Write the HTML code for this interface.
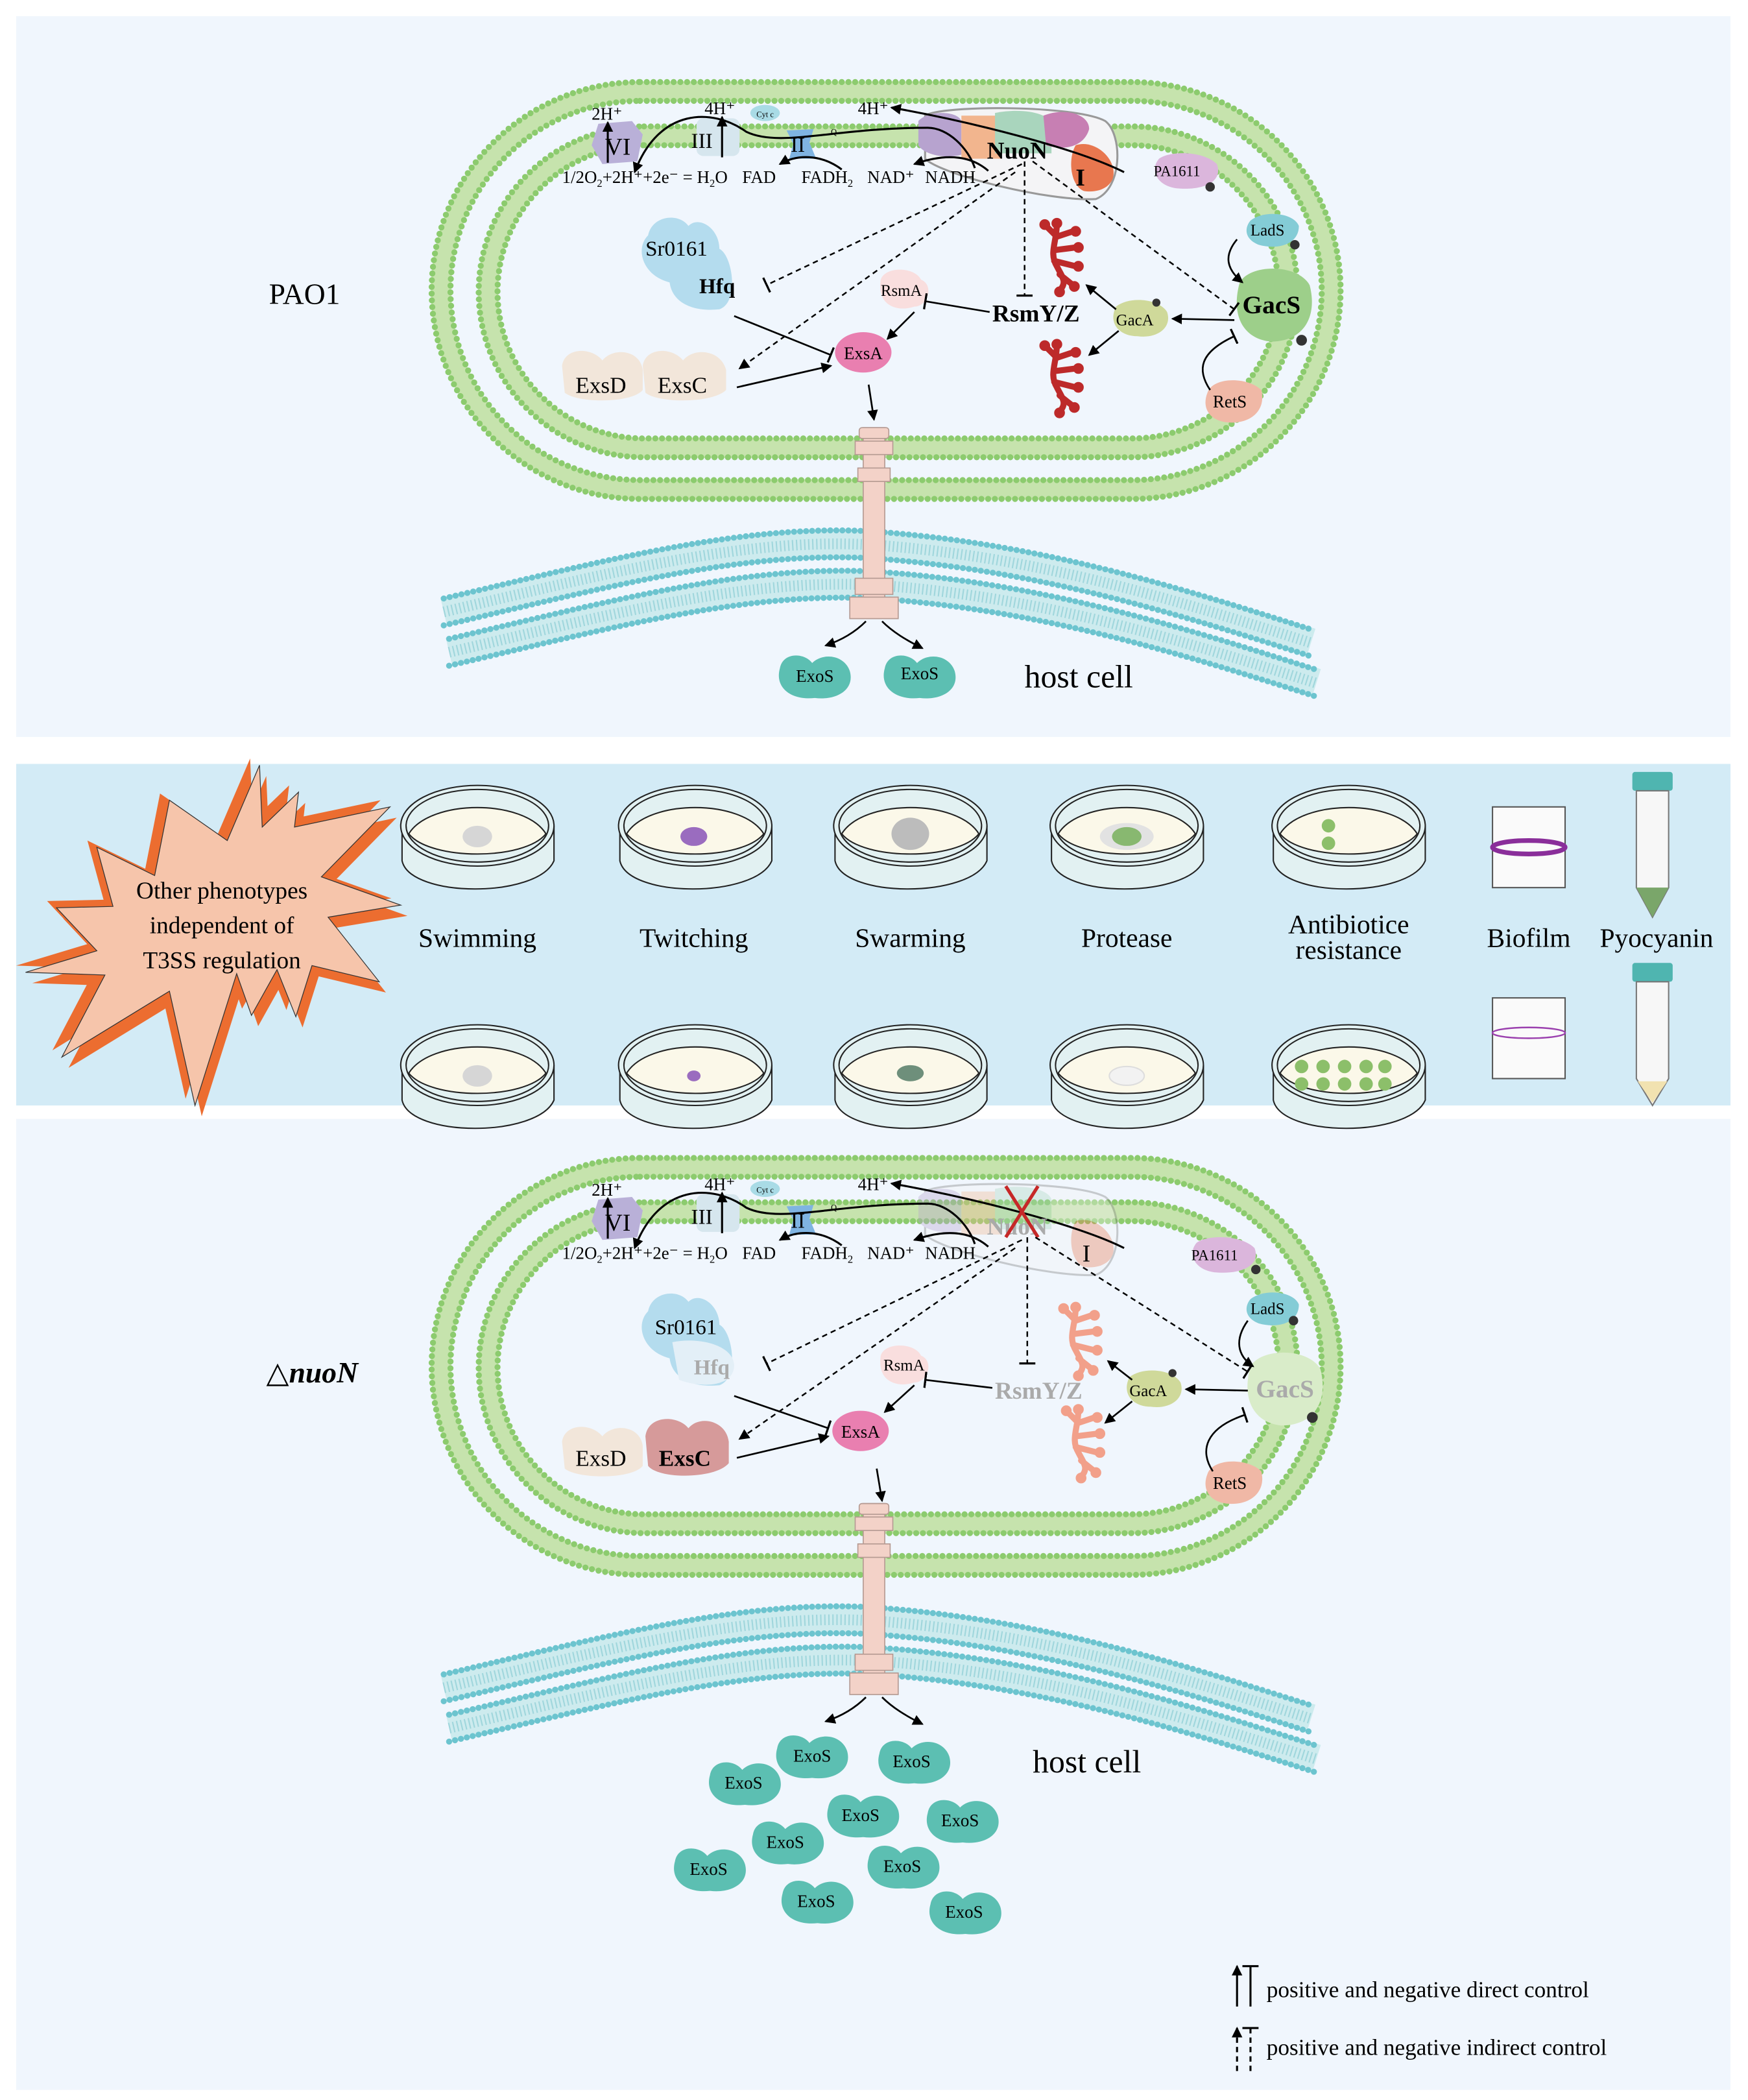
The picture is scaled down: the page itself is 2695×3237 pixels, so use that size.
<!DOCTYPE html>
<html><head><meta charset="utf-8"><style>
html,body{margin:0;padding:0;background:#fff;}
svg{display:block;}
text{font-family:"Liberation Serif",serif;}
</style></head><body>
<svg width="2695" height="3237" viewBox="0 0 1300 1561.5" xmlns="http://www.w3.org/2000/svg">
<defs>
<marker id="ah" markerWidth="8" markerHeight="8" refX="7" refY="4" orient="auto" markerUnits="userSpaceOnUse"><path d="M0,0 L8,4 L0,8 Z" fill="#000"/></marker>
<marker id="tb" markerWidth="2" markerHeight="12" refX="1" refY="6" orient="auto" markerUnits="userSpaceOnUse"><rect x="0" y="0" width="1.6" height="12" fill="#000"/></marker>
<g id="memb">
  <rect x="328" y="68" width="662" height="296" rx="148" fill="none" stroke="#c6e3ad" stroke-width="15"/>
  <rect x="321" y="61" width="676" height="310" rx="155" fill="none" stroke="#8ccb6e" stroke-width="4.5" stroke-dasharray="0 5" stroke-linecap="round"/>
  <rect x="335" y="75" width="648" height="282" rx="141" fill="none" stroke="#8ccb6e" stroke-width="4.5" stroke-dasharray="0 5" stroke-linecap="round"/>
  <rect x="363" y="101" width="595" height="232" rx="116" fill="none" stroke="#c6e3ad" stroke-width="15"/>
  <rect x="356" y="94" width="609" height="246" rx="123" fill="none" stroke="#8ccb6e" stroke-width="4.5" stroke-dasharray="0 5" stroke-linecap="round"/>
  <rect x="370" y="108" width="581" height="218" rx="109" fill="none" stroke="#8ccb6e" stroke-width="4.5" stroke-dasharray="0 5" stroke-linecap="round"/>
</g>
<path id="hp" d="M330,455 C450,427 560,397 660,406 C780,416 880,448 975,478" fill="none"/>
<g id="bil">
  <use href="#hp" stroke="#cdebee" stroke-width="22"/>
  <use href="#hp" stroke="#9fd6dc" stroke-width="8" stroke-dasharray="1 2"/>
  <use href="#hp" stroke="#6cc4cf" stroke-width="4.5" stroke-dasharray="0 4.5" stroke-linecap="round" transform="translate(0,-10)"/>
  <use href="#hp" stroke="#6cc4cf" stroke-width="4.5" stroke-dasharray="0 4.5" stroke-linecap="round" transform="translate(0,10)"/>
</g>
<g id="host">
  <use href="#bil"/>
  <use href="#bil" transform="translate(4,30)"/>
</g>
<g id="needle">
  <rect x="642" y="318" width="16" height="140" fill="#f3d2c8" stroke="#b59a92" stroke-width="0.8"/>
  <rect x="639" y="318" width="22" height="8" rx="2" fill="#f3d2c8" stroke="#b59a92" stroke-width="0.8"/>
  <rect x="636" y="328" width="28" height="10" fill="#f3d2c8" stroke="#b59a92" stroke-width="0.8"/>
  <rect x="638" y="348" width="24" height="10" fill="#f3d2c8" stroke="#b59a92" stroke-width="0.8"/>
  <rect x="636" y="430" width="28" height="12" fill="#f3d2c8" stroke="#b59a92" stroke-width="0.8"/>
  <rect x="632" y="444" width="36" height="16" fill="#f3d2c8" stroke="#b59a92" stroke-width="0.8"/>
</g>
<path id="exos" d="M-26,-6 C-24,-18 -8,-18 -2,-10 C6,-18 22,-16 26,-4 C30,10 16,18 0,16 C-18,18 -30,8 -26,-6 Z" fill="#5cbfb2"/>
<g id="rna">
  <path d="M-6,-22 C-6,-8 -12,0 -6,10 C-2,18 2,22 -4,28 M-6,-12 L6,-16 M-8,-2 L8,-4 M-8,6 L8,10 M-4,16 L6,24 M-6,-12 L-14,-20" stroke-width="4.5" fill="none" stroke-linecap="round"/>
  <circle cx="-6" cy="-22" r="3.5"/><circle cx="8" cy="-16" r="3.5"/><circle cx="10" cy="-4" r="3.5"/><circle cx="10" cy="10" r="3.5"/><circle cx="7" cy="25" r="3.5"/><circle cx="-4" cy="29" r="3.5"/><circle cx="-15" cy="-21" r="3.5"/>
</g>
<g id="etc">
<path d="M445,92 L470,90 L478,100 L474,120 L448,122 L440,108 Z" fill="#b9b0d8"/>
<rect x="518" y="88" width="32" height="28" rx="5" fill="#d6e6ee"/>
<ellipse cx="569" cy="84" rx="11" ry="6" fill="#a9dbe6"/>
<text x="569" y="87" font-size="6" text-anchor="middle">Cyt c</text>
<path d="M585,97 L605,96 L602,106 L607,118 L587,118 L590,107 Z" fill="#7fb4e2"/>
<text x="618" y="100" font-size="6">Q</text>
<text x="450" y="115" font-size="18">VI</text>
<text x="514" y="110" font-size="16">III</text>
<text x="588" y="113" font-size="16">II</text>
<text x="440" y="89" font-size="13">2H⁺</text>
<text x="524" y="85" font-size="13">4H⁺</text>
<text x="638" y="85" font-size="13">4H⁺</text>
<line x1="452" y1="121" x2="452" y2="91" stroke="#000" stroke-width="1.5" marker-end="url(#ah)"/>
<line x1="537" y1="117" x2="537" y2="87" stroke="#000" stroke-width="1.5" marker-end="url(#ah)"/>
<path d="M836,128 C800,110 720,90 663,80" fill="none" stroke="#000" stroke-width="1.5" marker-end="url(#ah)"/>
<path d="M725,125 C720,110 705,95 690,95 C620,95 580,110 555,98 C530,80 490,80 472,128" fill="none" stroke="#000" stroke-width="1.5" marker-end="url(#ah)"/>
<path d="M626,126 C610,114 592,115 580,122" fill="none" stroke="#000" stroke-width="1.5" marker-end="url(#ah)"/>
<path d="M735,127 C720,114 700,115 680,122" fill="none" stroke="#000" stroke-width="1.5" marker-end="url(#ah)"/>
<text x="418" y="136" font-size="13">1/2O<tspan font-size="8" dy="3">2</tspan><tspan dy="-3">+2H⁺+2e⁻ = H</tspan><tspan font-size="8" dy="3">2</tspan><tspan dy="-3">O</tspan></text>
<text x="552" y="136" font-size="13">FAD</text>
<text x="596" y="136" font-size="13">FADH<tspan font-size="8" dy="3">2</tspan></text>
<text x="645" y="136" font-size="13">NAD⁺</text>
<text x="688" y="136" font-size="13">NADH</text>
</g>
</defs>

<rect x="12" y="12" width="1275" height="536" fill="#f0f6fd"/>
<rect x="12" y="568" width="1275" height="254" fill="#d3ebf6"/>
<rect x="12" y="832" width="1275" height="722" fill="#f0f6fd"/>

<!-- ================= TOP ================= -->
<use href="#memb"/>
<use href="#host"/>
<use href="#needle"/>
<text x="200" y="226" font-size="22">PAO1</text>
<path d="M688,86 C700,78 800,78 822,90 C835,100 835,140 815,148 C780,150 700,130 688,118 Z" fill="#f4f4f6" stroke="#999" stroke-width="1.5"/>
<path d="M683,90 C690,82 712,82 715,90 L715,115 C705,118 688,116 683,108 Z" fill="#b7a3cf"/>
<path d="M715,86 L745,86 L745,118 L715,118 Z" fill="#f2b58e"/>
<path d="M740,84 C760,80 780,84 782,92 L782,114 L740,114 Z" fill="#a9d5bd"/>
<path d="M776,86 C790,80 810,84 810,96 C806,110 790,112 778,108 Z" fill="#c77fb3"/>
<path d="M800,108 C812,104 826,114 828,126 C830,138 818,144 806,142 C796,138 794,118 800,108 Z" fill="#e8774f"/>
<use href="#etc"/>
<text x="734" y="118" font-size="18" font-weight="bold">NuoN</text>
<text x="800" y="138" font-size="18" font-weight="bold">I</text>

<path d="M482,175 C485,160 505,158 512,168 C520,160 535,170 535,185 C545,190 550,225 535,230 C515,232 500,225 498,210 C478,205 472,185 482,175 Z" fill="#b4dcee"/>
<text x="480" y="190" font-size="16">Sr0161</text>
<text x="520" y="218" font-size="16" font-weight="bold">Hfq</text>
<path d="M655,208 C658,198 680,198 685,208 C695,212 690,228 680,228 C668,232 652,228 655,208 Z" fill="#f9dede"/>
<text x="655" y="220" font-size="12">RsmA</text>
<ellipse cx="642" cy="262" rx="21" ry="15" fill="#e97fb0"/>
<text x="642" y="267" font-size="13" text-anchor="middle">ExsA</text>
<path d="M418,272 C420,258 440,258 448,268 C456,258 476,260 478,275 L478,290 C470,300 430,300 420,292 Z" fill="#f2e6da"/>
<path d="M478,272 C480,258 500,258 508,268 C516,258 536,260 540,275 L540,290 C530,300 490,300 480,292 Z" fill="#f2e6da"/>
<text x="428" y="292" font-size="17">ExsD</text>
<text x="489" y="292" font-size="17">ExsC</text>
<text x="738" y="239" font-size="18" font-weight="bold">RsmY/Z</text>
<path d="M830,228 C840,220 862,222 868,232 C872,244 860,252 846,250 C832,250 824,240 830,228 Z" fill="#cfd99a"/>
<text x="830" y="242" font-size="12">GacA</text>
<circle cx="860" cy="225" r="3" fill="#333"/>
<path d="M862,118 C870,112 895,112 905,122 C910,135 895,142 875,140 C860,138 855,126 862,118 Z" fill="#dbb6dc"/>
<text x="858" y="131" font-size="11">PA1611</text>
<circle cx="900" cy="139" r="3.5" fill="#333"/>
<path d="M930,164 C940,156 962,158 966,168 C966,182 950,186 936,182 C926,178 925,170 930,164 Z" fill="#84ccd6"/>
<text x="930" y="175" font-size="12">LadS</text>
<circle cx="963" cy="182" r="3.5" fill="#333"/>
<path d="M922,210 C930,196 965,196 974,212 C980,235 970,254 945,254 C925,252 915,235 922,210 Z" fill="#9dcf8a"/>
<text x="924" y="233" font-size="19" font-weight="bold">GacS</text>
<circle cx="968" cy="253" r="4" fill="#333"/>
<path d="M898,292 C902,280 928,280 938,290 C942,305 930,316 912,314 C898,312 894,302 898,292 Z" fill="#f0b8a6"/>
<text x="902" y="303" font-size="13">RetS</text>
<g stroke="#bd2a2a" fill="#bd2a2a"><use href="#rna" x="792" y="188"/><use href="#rna" x="792" y="278"/></g>

<line x1="760" y1="122" x2="570" y2="212" stroke="#000" stroke-width="1.2" stroke-dasharray="4 3" marker-end="url(#tb)"/>
<line x1="755" y1="128" x2="550" y2="274" stroke="#000" stroke-width="1.2" stroke-dasharray="4 3" marker-end="url(#ah)"/>
<line x1="762" y1="120" x2="762" y2="220" stroke="#000" stroke-width="1.2" stroke-dasharray="4 3" marker-end="url(#tb)"/>
<line x1="768" y1="120" x2="918" y2="230" stroke="#000" stroke-width="1.2" stroke-dasharray="4 3" marker-end="url(#tb)"/>
<line x1="546" y1="235" x2="618" y2="264" stroke="#000" stroke-width="1.3" marker-end="url(#tb)"/>
<line x1="548" y1="288" x2="618" y2="272" stroke="#000" stroke-width="1.3" marker-end="url(#ah)"/>
<line x1="680" y1="232" x2="660" y2="252" stroke="#000" stroke-width="1.3" marker-end="url(#ah)"/>
<line x1="736" y1="232" x2="688" y2="224" stroke="#000" stroke-width="1.3" marker-end="url(#tb)"/>
<line x1="830" y1="230" x2="808" y2="212" stroke="#000" stroke-width="1.3" marker-end="url(#ah)"/>
<line x1="832" y1="246" x2="810" y2="264" stroke="#000" stroke-width="1.3" marker-end="url(#ah)"/>
<line x1="918" y1="238" x2="872" y2="237" stroke="#000" stroke-width="1.3" marker-end="url(#ah)"/>
<path d="M900,290 C890,275 892,262 918,250" fill="none" stroke="#000" stroke-width="1.3" marker-end="url(#tb)"/>
<path d="M920,178 C910,190 912,200 924,210" fill="none" stroke="#000" stroke-width="1.3" marker-end="url(#ah)"/>
<line x1="646" y1="286" x2="650" y2="312" stroke="#000" stroke-width="1.3" marker-end="url(#ah)"/>
<path d="M644,462 C636,470 626,476 614,480" fill="none" stroke="#000" stroke-width="1.3" marker-end="url(#ah)"/>
<path d="M656,462 C664,470 674,476 686,482" fill="none" stroke="#000" stroke-width="1.3" marker-end="url(#ah)"/>
<use href="#exos" x="606" y="503"/><use href="#exos" x="684" y="503"/>
<text x="606" y="507" font-size="13" text-anchor="middle">ExoS</text>
<text x="684" y="505" font-size="13" text-anchor="middle">ExoS</text>
<text x="762" y="511" font-size="24">host cell</text>

<!-- ================= MIDDLE ================= -->
<g id="star">
<polygon points="193,569 195,615 222,589 219,615 290,600 239,652 298,673 244,682 282,730 232,718 220,756 206,721 187,755 176,724 145,822 126,737 46,786 78,725 19,723 72,707 42,675 84,674 72,630 115,651 126,595 169,625" fill="#ec6d30" transform="translate(-7,-5)"/>
<polygon points="193,569 195,615 222,589 219,615 290,600 239,652 298,673 244,682 282,730 232,718 220,756 206,721 187,755 176,724 145,822 126,737 46,786 78,725 19,723 72,707 42,675 84,674 72,630 115,651 126,595 169,625" fill="#ec6d30" transform="translate(5,8)"/>
<polygon points="193,569 195,615 222,589 219,615 290,600 239,652 298,673 244,682 282,730 232,718 220,756 206,721 187,755 176,724 145,822 126,737 46,786 78,725 19,723 72,707 42,675 84,674 72,630 115,651 126,595 169,625" fill="#f6c5ab" stroke="#333" stroke-width="0.6"/>
</g>
<text x="165" y="668" font-size="18" text-anchor="middle">Other phenotypes</text>
<text x="165" y="694" font-size="18" text-anchor="middle">independent of</text>
<text x="165" y="720" font-size="18" text-anchor="middle">T3SS regulation</text>

<g id="dish" stroke="#222" stroke-width="1">
  <path d="M299,614 L299,640 C305,668 400,668 412,640 L412,614" fill="#e2f1f2"/>
  <ellipse cx="355" cy="614" rx="57" ry="30" fill="#e2f1f2"/>
  <ellipse cx="355" cy="614" rx="53" ry="27" fill="#e2f1f2"/>
  <path d="M304,620 C320,594 390,594 406,620 C390,640 320,640 304,620 Z" fill="#fbf8e9"/>
</g>
<ellipse cx="355" cy="622" rx="11" ry="8" fill="#d6d6d6"/>
<use href="#dish" x="162"/><ellipse cx="516" cy="622" rx="10" ry="7" fill="#9a6cbf"/>
<use href="#dish" x="322"/><ellipse cx="677" cy="620" rx="14" ry="12" fill="#bcbcbc"/>
<use href="#dish" x="483"/><ellipse cx="838" cy="622" rx="20" ry="10" fill="#e2e2e2"/><ellipse cx="838" cy="622" rx="11" ry="7" fill="#88b870"/>
<use href="#dish" x="648"/><circle cx="988" cy="614" r="5" fill="#8cbf6a"/><circle cx="988" cy="627" r="5" fill="#8cbf6a"/>

<use href="#dish" y="178"/><ellipse cx="355" cy="800" rx="11" ry="8" fill="#d6d6d6"/>
<use href="#dish" x="162" y="178"/><ellipse cx="516" cy="800" rx="5" ry="4" fill="#9a6cbf"/>
<use href="#dish" x="322" y="178"/><ellipse cx="677" cy="798" rx="10" ry="6" fill="#6e8f7b"/>
<use href="#dish" x="483" y="178"/><ellipse cx="838" cy="800" rx="13" ry="7" fill="#f2f2f2" stroke="#ddd"/>
<use href="#dish" x="648" y="178"/>
<g fill="#8cbf6a"><circle cx="968" cy="793" r="5"/><circle cx="984" cy="793" r="5"/><circle cx="1000" cy="793" r="5"/><circle cx="1016" cy="793" r="5"/><circle cx="1030" cy="793" r="5"/><circle cx="968" cy="806" r="5"/><circle cx="984" cy="806" r="5"/><circle cx="1000" cy="806" r="5"/><circle cx="1016" cy="806" r="5"/><circle cx="1030" cy="806" r="5"/></g>

<g font-size="20" text-anchor="middle">
<text x="355" y="704">Swimming</text><text x="516" y="704">Twitching</text><text x="677" y="704">Swarming</text><text x="838" y="704">Protease</text>
<text x="1003" y="694">Antibiotice</text><text x="1003" y="713">resistance</text><text x="1137" y="704">Biofilm</text><text x="1232" y="704">Pyocyanin</text>
</g>
<rect x="1110" y="600" width="54" height="60" fill="#fafafa" stroke="#555"/>
<ellipse cx="1137" cy="630" rx="27" ry="5" fill="none" stroke="#8a2e9a" stroke-width="3.5"/>
<rect x="1110" y="742" width="54" height="60" fill="#fafafa" stroke="#555"/>
<ellipse cx="1137" cy="768" rx="27" ry="4" fill="none" stroke="#9a3fae" stroke-width="1.2"/>
<rect x="1214" y="574" width="30" height="14" rx="2" fill="#4fb5b0"/>
<path d="M1217,588 L1241,588 L1241,660 L1229,682 L1217,660 Z" fill="#f7f7f7" stroke="#777"/>
<path d="M1217,660 L1241,660 L1229,682 Z" fill="#7aa66a"/>
<rect x="1214" y="716" width="30" height="14" rx="2" fill="#4fb5b0"/>
<path d="M1217,730 L1241,730 L1241,802 L1229,822 L1217,802 Z" fill="#f7f7f7" stroke="#777"/>
<path d="M1218,804 L1240,804 L1229,820 Z" fill="#f1e2b0"/>

<!-- ================= BOTTOM ================= -->
<g transform="translate(0,800)">
<use href="#memb"/>
<use href="#host"/>
<use href="#needle"/>
<g opacity="0.35">
<path d="M688,86 C700,78 800,78 822,90 C835,100 835,140 815,148 C780,150 700,130 688,118 Z" fill="#f4f4f6" stroke="#777" stroke-width="1.5"/>
<path d="M683,90 C690,82 712,82 715,90 L715,115 C705,118 688,116 683,108 Z" fill="#b7a3cf"/>
<path d="M715,86 L745,86 L745,118 L715,118 Z" fill="#f2b58e"/>
<path d="M740,84 C760,80 780,84 782,92 L782,114 L740,114 Z" fill="#a9d5bd"/>
<path d="M800,108 C812,104 826,114 828,126 C830,138 818,144 806,142 C796,138 794,118 800,108 Z" fill="#e8774f"/>
</g>
<use href="#etc"/>
<text x="734" y="118" font-size="18" font-weight="bold" fill="#aaa">NuoN</text>
<path d="M748,82 L772,120 M772,82 L748,120" stroke="#c62828" stroke-width="2.5"/>
<text x="805" y="138" font-size="18">I</text>

<path d="M482,175 C485,160 505,158 512,168 C520,160 535,170 535,185 C545,190 550,225 535,230 C515,232 500,225 498,210 C478,205 472,185 482,175 Z" fill="#b4dcee"/>
<path d="M500,198 C520,194 545,200 546,215 C546,232 520,232 505,226 Z" fill="#e3eff7"/>
<text x="487" y="192" font-size="16">Sr0161</text>
<text x="516" y="222" font-size="16" font-weight="bold" fill="#aaa">Hfq</text>
<path d="M655,208 C658,198 680,198 685,208 C695,212 690,228 680,228 C668,232 652,228 655,208 Z" fill="#f9dede"/>
<text x="657" y="219" font-size="12">RsmA</text>
<ellipse cx="640" cy="264" rx="21" ry="15" fill="#e97fb0"/>
<text x="640" y="269" font-size="13" text-anchor="middle">ExsA</text>
<path d="M418,272 C420,258 440,258 448,268 C456,258 476,260 478,275 L478,290 C470,300 430,300 420,292 Z" fill="#f2e6da"/>
<path d="M480,268 C482,252 504,252 512,262 C520,252 540,256 542,272 L542,288 C532,300 490,300 482,290 Z" fill="#d69a9a"/>
<text x="428" y="290" font-size="17">ExsD</text>
<text x="490" y="290" font-size="17" font-weight="bold">ExsC</text>
<text x="740" y="240" font-size="18" font-weight="bold" fill="#aaa">RsmY/Z</text>
<path d="M840,224 C850,216 872,218 878,228 C882,240 870,248 856,246 C842,246 834,236 840,224 Z" fill="#cfd99a"/>
<text x="840" y="238" font-size="12">GacA</text>
<circle cx="872" cy="221" r="3" fill="#333"/>
<path d="M890,124 C898,118 923,118 933,128 C938,141 923,148 903,146 C888,144 883,132 890,124 Z" fill="#dbb6dc"/>
<text x="886" y="137" font-size="11">PA1611</text>
<circle cx="934" cy="144" r="3.5" fill="#333"/>
<path d="M930,166 C940,158 962,160 966,170 C966,184 950,188 936,184 C926,180 925,172 930,166 Z" fill="#84ccd6"/>
<text x="930" y="177" font-size="12">LadS</text>
<circle cx="962" cy="182" r="3.5" fill="#333"/>
<path d="M930,216 C938,202 973,202 982,218 C988,241 978,260 953,260 C933,258 923,241 930,216 Z" fill="#d9ecc9"/>
<text x="934" y="239" font-size="19" font-weight="bold" fill="#aaa">GacS</text>
<circle cx="976" cy="254" r="4" fill="#333"/>
<path d="M898,296 C902,284 928,284 938,294 C942,309 930,320 912,318 C898,316 894,306 898,296 Z" fill="#f0b8a6"/>
<text x="902" y="307" font-size="13">RetS</text>
<g stroke="#f2a08a" fill="#f2a08a"><use href="#rna" x="806" y="194"/><use href="#rna" x="808" y="270"/></g>

<line x1="760" y1="122" x2="570" y2="214" stroke="#000" stroke-width="1.2" stroke-dasharray="4 3" marker-end="url(#tb)"/>
<line x1="755" y1="128" x2="550" y2="270" stroke="#000" stroke-width="1.2" stroke-dasharray="4 3" marker-end="url(#ah)"/>
<line x1="764" y1="120" x2="764" y2="214" stroke="#000" stroke-width="1.2" stroke-dasharray="4 3" marker-end="url(#tb)"/>
<line x1="770" y1="120" x2="928" y2="220" stroke="#000" stroke-width="1.2" stroke-dasharray="4 3" marker-end="url(#tb)"/>
<line x1="546" y1="238" x2="616" y2="262" stroke="#000" stroke-width="1.3" marker-end="url(#tb)"/>
<line x1="548" y1="284" x2="616" y2="268" stroke="#000" stroke-width="1.3" marker-end="url(#ah)"/>
<line x1="680" y1="230" x2="658" y2="250" stroke="#000" stroke-width="1.3" marker-end="url(#ah)"/>
<line x1="738" y1="232" x2="688" y2="226" stroke="#000" stroke-width="1.3" marker-end="url(#tb)"/>
<line x1="842" y1="226" x2="824" y2="212" stroke="#000" stroke-width="1.3" marker-end="url(#ah)"/>
<line x1="842" y1="242" x2="822" y2="258" stroke="#000" stroke-width="1.3" marker-end="url(#ah)"/>
<line x1="928" y1="234" x2="882" y2="233" stroke="#000" stroke-width="1.3" marker-end="url(#ah)"/>
<path d="M902,294 C892,279 896,262 926,252" fill="none" stroke="#000" stroke-width="1.3" marker-end="url(#tb)"/>
<path d="M928,182 C918,196 920,208 932,216" fill="none" stroke="#000" stroke-width="1.3" marker-end="url(#ah)"/>
<line x1="652" y1="292" x2="656" y2="316" stroke="#000" stroke-width="1.3" marker-end="url(#ah)"/>
<path d="M644,462 C636,470 626,476 614,480" fill="none" stroke="#000" stroke-width="1.3" marker-end="url(#ah)"/>
<path d="M656,462 C664,470 674,476 686,482" fill="none" stroke="#000" stroke-width="1.3" marker-end="url(#ah)"/>
</g>
<text x="198" y="1028" font-size="22">△<tspan font-style="italic" font-weight="bold">nuoN</tspan></text>
<text x="768" y="1318" font-size="24">host cell</text>

<g font-size="13" text-anchor="middle">
<use href="#exos" x="604" y="1306"/><text x="604" y="1310">ExoS</text>
<use href="#exos" x="680" y="1310"/><text x="678" y="1314">ExoS</text>
<use href="#exos" x="554" y="1326"/><text x="553" y="1330">ExoS</text>
<use href="#exos" x="642" y="1350"/><text x="640" y="1354">ExoS</text>
<use href="#exos" x="716" y="1354"/><text x="714" y="1358">ExoS</text>
<use href="#exos" x="586" y="1370"/><text x="584" y="1374">ExoS</text>
<use href="#exos" x="528" y="1390"/><text x="527" y="1394">ExoS</text>
<use href="#exos" x="672" y="1388"/><text x="671" y="1392">ExoS</text>
<use href="#exos" x="608" y="1414"/><text x="607" y="1418">ExoS</text>
<use href="#exos" x="718" y="1422"/><text x="717" y="1426">ExoS</text>
</g>

<line x1="920" y1="1492" x2="920" y2="1462" stroke="#000" stroke-width="1.5" marker-end="url(#ah)"/>
<line x1="930" y1="1492" x2="930" y2="1462" stroke="#000" stroke-width="1.5"/>
<line x1="924" y1="1462" x2="936" y2="1462" stroke="#000" stroke-width="1.5"/>
<text x="942" y="1485" font-size="17">positive and negative direct control</text>
<line x1="920" y1="1540" x2="920" y2="1508" stroke="#000" stroke-width="1.5" stroke-dasharray="4 3" marker-end="url(#ah)"/>
<line x1="930" y1="1540" x2="930" y2="1508" stroke="#000" stroke-width="1.5" stroke-dasharray="4 3"/>
<line x1="924" y1="1508" x2="936" y2="1508" stroke="#000" stroke-width="1.5"/>
<text x="942" y="1528" font-size="17">positive and negative indirect control</text>
</svg>
</body></html>
